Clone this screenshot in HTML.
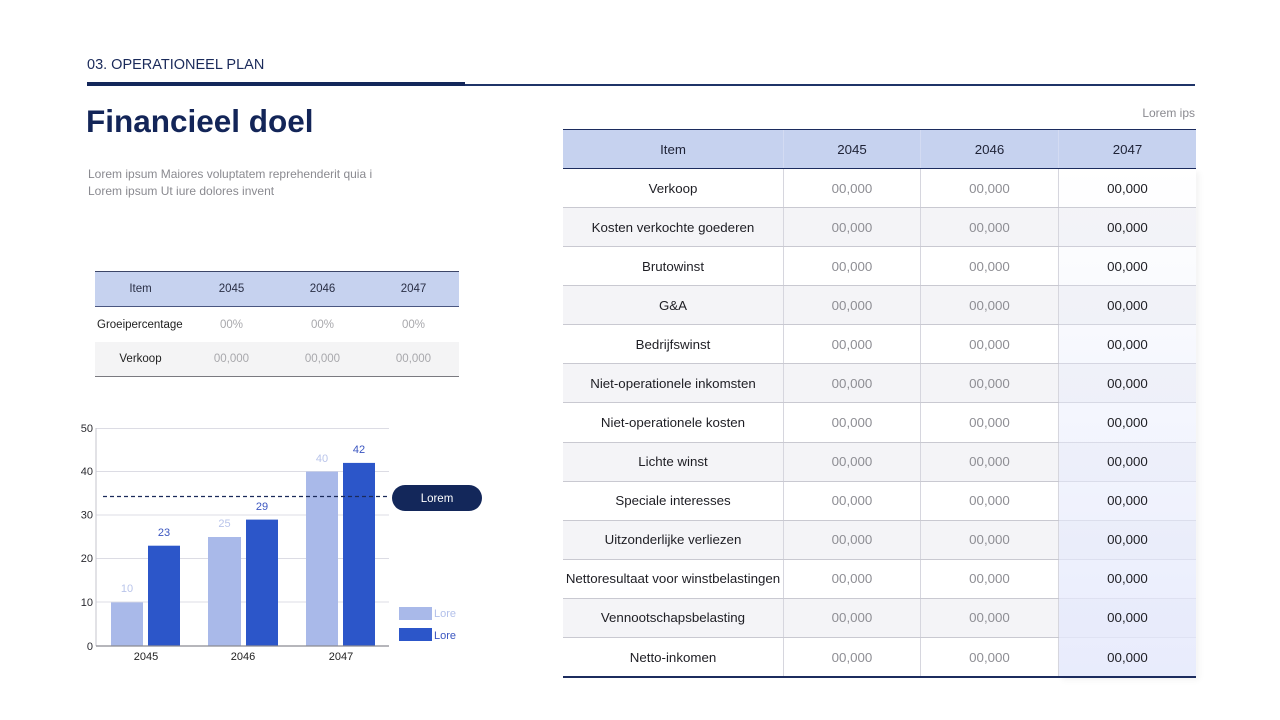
<!DOCTYPE html>
<html>
<head>
<meta charset="utf-8">
<style>
*{margin:0;padding:0;box-sizing:border-box}
html,body{width:1280px;height:720px;background:#fff;overflow:hidden}
body{position:relative;font-family:"Liberation Sans",sans-serif;color:#222}
.abs{position:absolute}
.sec{left:87px;top:57px;font-size:14.5px;color:#1a2a5a;letter-spacing:0px;white-space:nowrap}
.title{left:86px;top:103px;font-size:31.5px;font-weight:bold;color:#132558;white-space:nowrap}
.para{left:88px;top:166px;font-size:12px;line-height:17px;color:#8a8a90;white-space:nowrap}
.thick{left:87px;top:82px;width:378px;height:4px;background:#13275a}
.thin{left:465px;top:84px;width:730px;height:1.5px;background:#1f3468}
.lips{right:85px;top:106px;font-size:12px;color:#8a8a90}
/* small table */
.st{left:95px;top:271px;width:364px}
.st .r{display:flex;height:35px;align-items:center}
.st .c{width:91px;text-align:center;font-size:11.5px;white-space:nowrap}
.st .h{background:#c6d2ef;border-top:1.5px solid #3c4668;border-bottom:1.5px solid #4a5680;height:36px}
.st .h .c{color:#2a2f45}
.st .v{color:#a8a8ac}
/* big table */
.bt{left:563px;top:129px;width:633px}
.bt .hdr{position:absolute;left:0;top:0;width:633px;height:40px;background:#c6d2ef;border-top:1.5px solid #1c2c5e;border-bottom:1.5px solid #1c2c5e}
.bt .row{position:absolute;left:0;width:633px;height:39.08px;border-bottom:1px solid #c9c9d1}
.bt .row.g{background:#f4f4f7}
.cell{position:absolute;top:0;height:100%;display:flex;align-items:center;justify-content:center;font-size:13.3px;white-space:nowrap}
.c0{left:0;width:220px;color:#1e1e24}
.c1{left:220px;width:137px;color:#8e8e94;border-left:1.5px solid #d6d6de}
.c2{left:357px;width:138px;color:#8e8e94;border-left:1.5px solid #d6d6de}
.c3{left:495px;width:138px;color:#1e1e24;border-left:1.5px solid #d6d6de;z-index:3}
.hdr .cell{color:#1e2236}
.hdr .c1,.hdr .c2,.hdr .c3{border-left:1px solid #d3dbf2}
.col4{position:absolute;left:496px;top:40px;width:137px;height:508px;background:linear-gradient(to bottom,rgba(238,240,252,0) 0%,rgba(232,236,252,0.5) 50%,rgba(228,232,252,0.85) 100%);box-shadow:3px 3px 6px rgba(0,0,0,0.05);z-index:1}
.bline{position:absolute;left:0;top:547px;width:633px;height:1.5px;background:#1c2c5e;z-index:4}
</style>
</head>
<body>
<div class="abs sec">03. OPERATIONEEL PLAN</div>
<div class="abs thick"></div>
<div class="abs thin"></div>
<div class="abs title">Financieel doel</div>
<div class="abs para">Lorem ipsum Maiores voluptatem reprehenderit quia i<br>Lorem ipsum Ut iure dolores invent</div>
<div class="abs lips">Lorem ips</div>

<div class="abs st">
  <div class="r h"><div class="c">Item</div><div class="c">2045</div><div class="c">2046</div><div class="c">2047</div></div>
  <div class="r"><div class="c" style="text-align:left;padding-left:2px">Groeipercentage</div><div class="c v">00%</div><div class="c v">00%</div><div class="c v">00%</div></div>
  <div class="r" style="background:#f4f4f5;border-bottom:1.5px solid #7a7a80"><div class="c">Verkoop</div><div class="c v">00,000</div><div class="c v">00,000</div><div class="c v">00,000</div></div>
</div>

<div class="abs bt">
  <div class="hdr"><div class="cell c0">Item</div><div class="cell c1">2045</div><div class="cell c2">2046</div><div class="cell c3">2047</div></div>
  <div class="row" style="top:40px"><div class="cell c0">Verkoop</div><div class="cell c1">00,000</div><div class="cell c2">00,000</div><div class="cell c3">00,000</div></div>
  <div class="row g" style="top:79.08px"><div class="cell c0">Kosten verkochte goederen</div><div class="cell c1">00,000</div><div class="cell c2">00,000</div><div class="cell c3">00,000</div></div>
  <div class="row" style="top:118.16px"><div class="cell c0">Brutowinst</div><div class="cell c1">00,000</div><div class="cell c2">00,000</div><div class="cell c3">00,000</div></div>
  <div class="row g" style="top:157.24px"><div class="cell c0">G&amp;A</div><div class="cell c1">00,000</div><div class="cell c2">00,000</div><div class="cell c3">00,000</div></div>
  <div class="row" style="top:196.32px"><div class="cell c0">Bedrijfswinst</div><div class="cell c1">00,000</div><div class="cell c2">00,000</div><div class="cell c3">00,000</div></div>
  <div class="row g" style="top:235.4px"><div class="cell c0">Niet-operationele inkomsten</div><div class="cell c1">00,000</div><div class="cell c2">00,000</div><div class="cell c3">00,000</div></div>
  <div class="row" style="top:274.48px"><div class="cell c0">Niet-operationele kosten</div><div class="cell c1">00,000</div><div class="cell c2">00,000</div><div class="cell c3">00,000</div></div>
  <div class="row g" style="top:313.56px"><div class="cell c0">Lichte winst</div><div class="cell c1">00,000</div><div class="cell c2">00,000</div><div class="cell c3">00,000</div></div>
  <div class="row" style="top:352.64px"><div class="cell c0">Speciale interesses</div><div class="cell c1">00,000</div><div class="cell c2">00,000</div><div class="cell c3">00,000</div></div>
  <div class="row g" style="top:391.72px"><div class="cell c0">Uitzonderlijke verliezen</div><div class="cell c1">00,000</div><div class="cell c2">00,000</div><div class="cell c3">00,000</div></div>
  <div class="row" style="top:430.8px"><div class="cell c0">Nettoresultaat voor winstbelastingen</div><div class="cell c1">00,000</div><div class="cell c2">00,000</div><div class="cell c3">00,000</div></div>
  <div class="row g" style="top:469.88px"><div class="cell c0">Vennootschapsbelasting</div><div class="cell c1">00,000</div><div class="cell c2">00,000</div><div class="cell c3">00,000</div></div>
  <div class="row" style="top:508.96px;border-bottom:none"><div class="cell c0">Netto-inkomen</div><div class="cell c1">00,000</div><div class="cell c2">00,000</div><div class="cell c3">00,000</div></div>
  <div class="col4"></div>
  <div class="bline"></div>
</div>

<svg class="abs" style="left:0;top:0" width="1280" height="720" viewBox="0 0 1280 720">
  <g stroke="#dcdce4" stroke-width="1">
    <line x1="96" y1="428.5" x2="389" y2="428.5"/>
    <line x1="96" y1="471.5" x2="389" y2="471.5"/>
    <line x1="96" y1="515" x2="389" y2="515"/>
    <line x1="96" y1="558.5" x2="389" y2="558.5"/>
    <line x1="96" y1="602" x2="389" y2="602"/>
  </g>
  <line x1="96" y1="428" x2="96" y2="646" stroke="#c4c4cc" stroke-width="1"/>
  <g font-family="Liberation Sans, sans-serif" font-size="11" fill="#2a2a30" text-anchor="end">
    <text x="93" y="432">50</text>
    <text x="93" y="475">40</text>
    <text x="93" y="518.5">30</text>
    <text x="93" y="562">20</text>
    <text x="93" y="606">10</text>
    <text x="93" y="650">0</text>
  </g>
  <rect x="111" y="602.4" width="32" height="43.6" fill="#a9b9e9"/>
  <rect x="148" y="545.7" width="32" height="100.3" fill="#2c56c9"/>
  <rect x="208" y="537" width="33" height="109" fill="#a9b9e9"/>
  <rect x="246" y="519.6" width="32" height="126.4" fill="#2c56c9"/>
  <rect x="306" y="471.6" width="32" height="174.4" fill="#a9b9e9"/>
  <rect x="343" y="462.9" width="32" height="183.1" fill="#2c56c9"/>
  <line x1="96" y1="646" x2="389" y2="646" stroke="#8a8a92" stroke-width="1.2"/>
  <g font-family="Liberation Sans, sans-serif" font-size="11" text-anchor="middle">
    <text x="127" y="592" fill="#b9c4ea">10</text>
    <text x="164" y="536" fill="#3a55c0">23</text>
    <text x="224.5" y="527" fill="#b9c4ea">25</text>
    <text x="262" y="510" fill="#3a55c0">29</text>
    <text x="322" y="462" fill="#b9c4ea">40</text>
    <text x="359" y="453" fill="#3a55c0">42</text>
    <text x="146" y="660" fill="#222">2045</text>
    <text x="243" y="660" fill="#222">2046</text>
    <text x="341" y="660" fill="#222">2047</text>
  </g>
  <line x1="103" y1="496.5" x2="387" y2="496.5" stroke="#1a2a5a" stroke-width="1.2" stroke-dasharray="4,3"/>
  <rect x="392" y="485" width="90" height="26" rx="13" fill="#13275a"/>
  <text x="437" y="502" font-family="Liberation Sans, sans-serif" font-size="11.5" fill="#fff" text-anchor="middle">Lorem</text>
  <rect x="399" y="607" width="33" height="13" fill="#a9b9e9"/>
  <rect x="399" y="628" width="33" height="13" fill="#2c56c9"/>
  <text x="434" y="617" font-family="Liberation Sans, sans-serif" font-size="11" fill="#b3c0ea">Lore</text>
  <text x="434" y="639" font-family="Liberation Sans, sans-serif" font-size="11" fill="#3a55c0">Lore</text>
</svg>
</body>
</html>
